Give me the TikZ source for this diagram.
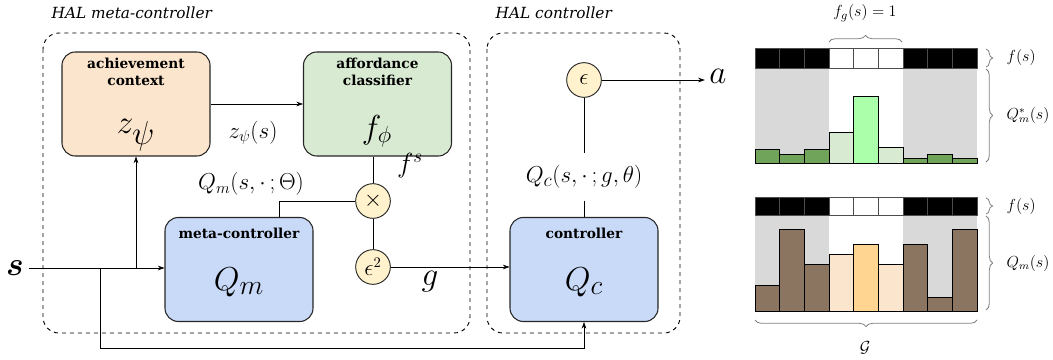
\documentclass[tikz,border=0pt]{standalone}
\usepackage{amsmath}
\usepackage{fontspec}
\setmainfont{DejaVu Serif}
\usetikzlibrary{positioning,arrows.meta,decorations.pathreplacing}

\definecolor{ctxfill}{HTML}{FCE5CD}
\definecolor{afffill}{HTML}{D9EAD3}
\definecolor{ctrlfill}{HTML}{C9DAF8}
\definecolor{opfill}{HTML}{FFF2CC}
\definecolor{maskgray}{HTML}{D9D9D9}
\definecolor{qdark}{HTML}{6FA45A}
\definecolor{qlight}{HTML}{D9EAD3}
\definecolor{qbright}{HTML}{ABFFAB}
\definecolor{mbrown}{HTML}{8C7560}
\definecolor{mpeach}{HTML}{FCE5CD}
\definecolor{morange}{HTML}{FFD591}

\begin{document}
\begin{tikzpicture}[x=0.75pt,y=-0.75pt,
		>={Stealth[length=5pt,width=3.5pt]},
		block/.style={draw=black!85,line width=0.8pt,rounded corners=10pt,minimum width=111pt,minimum height=78pt},
		opnode/.style={circle,draw=black!85,line width=0.7pt,fill=opfill,minimum size=26pt,inner sep=0pt,font=\fontsize{16}{16}\selectfont},
		group/.style={dashed,line width=0.7pt,rounded corners=12pt},
		grouptitle/.style={anchor=west,font=\fontsize{11.5}{13}\selectfont\itshape},
		title/.style={align=center,font=\fontsize{10.3}{12.5}\selectfont\bfseries,inner sep=2pt},
		bigmath/.style={anchor=base,inner sep=0pt},
		lbl/.style={font=\fontsize{17}{19}\selectfont},
		sidelbl/.style={anchor=west,font=\fontsize{12}{14}\selectfont},
		bar/.style={draw=black,line width=0.5pt},
		cell/.style={draw=black!70,line width=0.6pt},
		curly/.style={draw=black!50,line width=0.6pt,decorate,decoration={brace,amplitude=5pt}}]
	\useasboundingbox (0,0) rectangle (1053,360);

	\draw[group]	(43,33) rectangle (470,333);
	\draw[group]	(487,33) rectangle (680,333);
	\node[grouptitle]	(hmtitle)	at (47,13)	{HAL meta-controller};
	\node[grouptitle]	(hctitle)	at (491,13)	{HAL controller};

	\node[block,fill=ctxfill]		(ctx)	at (136,104)	{};
	\node[block,fill=afffill]		(aff)	at (377.5,104)	{};
	\node[block,fill=ctrlfill]		(meta)	at (239,269.5)	{};
	\node[block,fill=ctrlfill]		(ctrl)	at (584,269.5)	{};

	\node[title,below=3pt of ctx.north]		(ctxtitle)	{achievement\\context};
	\node[title,below=3pt of aff.north]		(afftitle)	{affordance\\classifier};
	\node[title,below=6pt of meta.north]	(metatitle)	{meta-controller};
	\node[title,below=6pt of ctrl.north]	(ctrltitle)	{controller};

	\node[bigmath,font=\fontsize{33}{33}\selectfont]	(zpsi)	at (136,133)	{$z_\psi$};
	\node[bigmath,font=\fontsize{27}{27}\selectfont]	(fphi)	at (377,138)	{$f_\phi$};
	\node[bigmath,font=\fontsize{30}{30}\selectfont]	(qm)	at (239,290)	{$Q_m$};
	\node[bigmath,font=\fontsize{30}{30}\selectfont]	(qc)	at (584,290)	{$Q_c$};

	\node[opnode]	(times)	at (373,201)	{$\times$};
	\node[opnode]	(eps2)	at (373,267)	{$\epsilon^2$};
	\node[opnode]	(eps)	at (584,80)		{$\epsilon$};

	\node[font=\fontsize{28}{28}\selectfont]	(s)	at (15,268)	{$\boldsymbol{s}$};
	\node[font=\fontsize{26}{26}\selectfont]	(a)	at (718,76)	{$a$};
	\node[font=\fontsize{26}{26}\selectfont]	(g)	at (430,282)	{$g$};

	\node[lbl]	(zlbl)	at (253,133)	{$z_\psi(s)$};
	\node[lbl,font=\fontsize{20}{22}\selectfont]	(fslbl)	at (410,166)	{$f^s$};
	\node[lbl]	(qmlbl)	at (251,184)	{$Q_m(s,\cdot\,;\Theta)$};
	\node[lbl,font=\fontsize{19}{21}\selectfont,inner ysep=9pt]	(qclbl)	at (584,177)	{$Q_c(s,\cdot\,;g,\theta)$};

	\coordinate (bypass) at (100,348);

	\draw[->] (ctx) -- (aff);
	\draw (times) -- (times |- aff.south);
	\draw (times) -| ([xshift=30pt]meta.north);
	\draw (times) -- (eps2);
	\draw[->] (eps2) -- (eps2 -| ctrl.west);
	\draw[->] (s) -- (s -| meta.west);
	\draw[->] (ctx.south |- s) -- (ctx.south);
	\draw[->] (bypass |- s) -- (bypass) -| (ctrl.south);
	\draw (eps) -- (qclbl);
	\draw (qclbl) -- (ctrl);
	\draw[->] (eps) -- (eps -| a.west);

	\fill[maskgray] (755,68) rectangle (829,163);
	\fill[maskgray] (903,68) rectangle (977,163);
	\foreach \col [count=\i from 0] in {black,black,black,white,white,white,black,black,black}
		\draw[cell,fill=\col] ({755+\i*24.667},48) rectangle ++(24.667,20);
	\foreach \top/\col [count=\i from 0] in {149/qdark,154/qdark,149/qdark,132/qlight,96/qbright,147/qlight,158/qdark,154/qdark,158/qdark}
		\draw[bar,fill=\col] ({755+\i*24.667},163) rectangle ({755+(\i+1)*24.667},\top);

	\fill[maskgray] (755,215) rectangle (829,311);
	\fill[maskgray] (903,215) rectangle (977,311);
	\foreach \col [count=\i from 0] in {black,black,black,white,white,white,black,black,black}
		\draw[cell,fill=\col] ({755+\i*24.667},197) rectangle ++(24.667,18);
	\foreach \top/\col [count=\i from 0] in {285/mbrown,229/mbrown,264/mbrown,254/mpeach,244/morange,264/mpeach,244/mbrown,297/mbrown,229/mbrown}
		\draw[bar,fill=\col] ({755+\i*24.667},311) rectangle ({755+(\i+1)*24.667},\top);

	\draw[curly] (829,42) -- (902,42);
	\node[sidelbl,anchor=center,font=\fontsize{12.5}{14}\selectfont]	(fglbl)	at (865,13)	{$f_g(s)=1$};
	\draw[curly] (986,49) -- (986,67);
	\node[sidelbl]	(fstop)	at (1002,58)	{$f(s)$};
	\draw[curly] (986,69) -- (986,162);
	\node[sidelbl]	(qstar)	at (1002,115)	{$Q^*_m(s)$};
	\draw[curly] (986,198) -- (986,214);
	\node[sidelbl]	(fsbot)	at (1002,206)	{$f(s)$};
	\draw[curly] (986,216) -- (986,310);
	\node[sidelbl]	(qmbot)	at (1002,263)	{$Q_m(s)$};
	\draw[curly] (977,320) -- (755,320);
	\node[sidelbl,anchor=center]	(glbl)	at (865,348)	{$\mathcal{G}$};
\end{tikzpicture}
\end{document}
